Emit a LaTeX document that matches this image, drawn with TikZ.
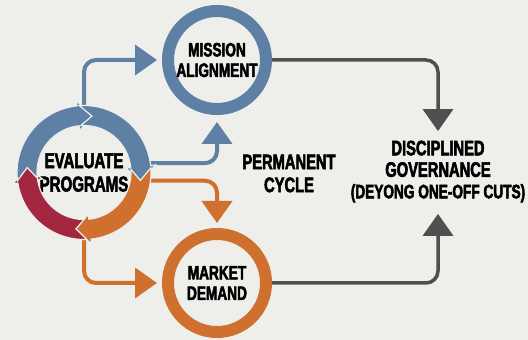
\documentclass[tikz,border=0pt]{standalone}
\usepackage{fontspec}
\setmainfont{Liberation Sans}[FakeStretch=0.7, BoldFeatures={FakeBold=2.5}]
\usetikzlibrary{arrows.meta,positioning}

\definecolor{bg}{HTML}{EEEEEA}
\definecolor{ringblue}{HTML}{5F80A5}
\definecolor{ringorange}{HTML}{D0702F}
\definecolor{ringred}{HTML}{A3283F}
\definecolor{linegrey}{HTML}{4F4F4F}

% one arrow piece of the ring: colour, tail angle, tip angle
\newcommand{\ringseg}[3]{%
  \filldraw[fill=#1, draw=bg, line width=1.2pt]
    (#2:67) arc[start angle=#2, end angle=#3+14, radius=67pt]
    -- (#3+14:72) -- (#3:57) -- (#3+14:42) -- (#3+14:47)
    arc[start angle=#3+14, end angle=#2, radius=47pt]
    -- (#2-12:57) -- cycle;}

\begin{document}
\begin{tikzpicture}[x=1pt, y=1pt,
    ring/.style = {draw, circle, line width=12pt, minimum size=98pt, inner sep=0pt, align=center,
                   font=\bfseries\fontsize{19.5}{20.5}\selectfont},
    big/.style = {align=center, font=\bfseries\fontsize{21.5}{23.4}\selectfont},
    conn/.style = {line width=4pt, rounded corners=12pt, -{Triangle[length=22pt, width=30pt]}}]
    \fill[bg] (0,0) rectangle (528,340);
    \useasboundingbox (0,0) rectangle (528,340);

    \node[big, circle, minimum size=134pt, inner sep=0pt] (eval) at (84,167.5) {EVALUATE\\PROGRAMS};
    \node[ring, draw=ringblue] (mission) at (217,280) {MISSION\\ALIGNMENT};
    \node[ring, draw=ringorange] (market) at (217,57) {MARKET\\DEMAND};
    \node[big, font=\bfseries\fontsize{21}{23}\selectfont] (cycle) at (289,166.5) {PERMANENT\\CYCLE};
    \node[big, font=\bfseries\fontsize{21}{21.5}\selectfont] (gov) at (438,168.5)
        {DISCIPLINED\\GOVERNANCE\\{\fontsize{19.5}{21.5}\selectfont (DEYONG ONE-OFF CUTS)}};

    \draw[conn, ringblue] (eval.north) |- ([xshift=-5pt]mission.west);
    \draw[conn, ringblue] (eval.8) -| ([yshift=-7pt]mission.south);
    \draw[conn, ringorange] (eval.-7) -| ([yshift=5pt]market.north);
    \draw[conn, ringorange] (eval.south) |- ([xshift=-5pt]market.west);
    \draw[conn, linegrey, line width=3.5pt] (mission.east) -| ([yshift=6pt]gov.north);
    \draw[conn, linegrey, line width=3.5pt] (market.east) -| ([yshift=-8pt]gov.south);

    \begin{scope}[shift={(eval.center)}]
        \ringseg{ringred}{-86}{-185}
        \ringseg{ringblue}{187}{82}
        \ringseg{ringblue}{94}{-8}
        \ringseg{ringorange}{4}{-98}
    \end{scope}
\end{tikzpicture}
\end{document}
